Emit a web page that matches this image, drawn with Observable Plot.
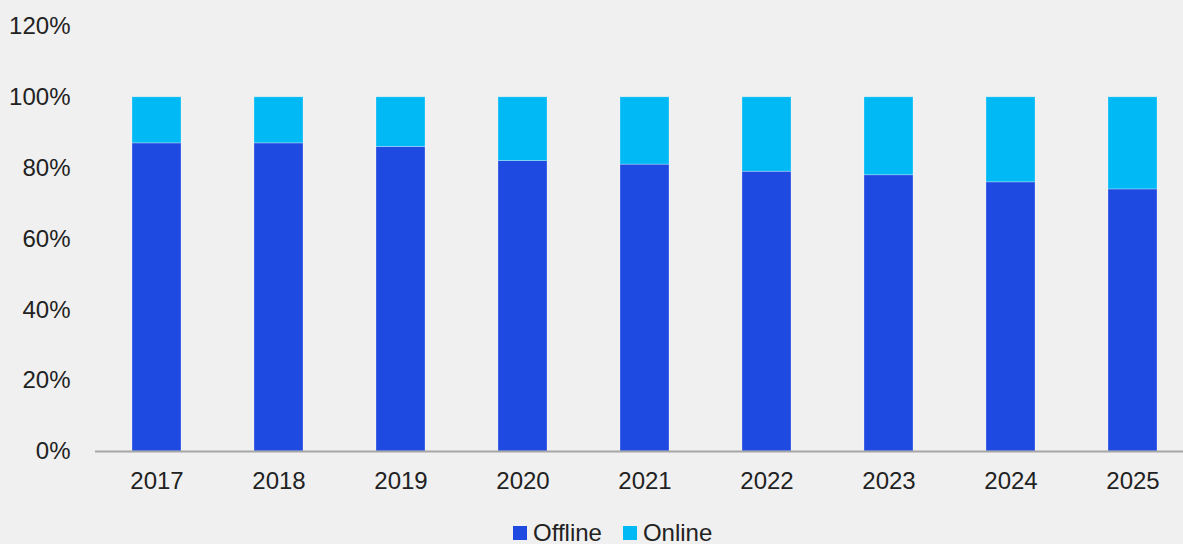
<!DOCTYPE html>
<html>
<head>
<meta charset="utf-8">
<script src="https://cdn.jsdelivr.net/npm/d3@7"></script>
<script src="https://cdn.jsdelivr.net/npm/@observablehq/plot@0.6"></script>
<style>
  html, body { margin: 0; padding: 0; background: #f0f0f0; }
  body { width: 1183px; height: 544px; position: relative; overflow: hidden;
         font-family: "Liberation Sans", Arial, sans-serif; color: #222; }
  #chart svg { display: block; }
  #legend { position: absolute; top: 523px; left: 513px; height: 20px; display: flex; align-items: center;
            font-size: 24px; line-height: 20px; color: #222; white-space: nowrap; }
  .sw { display: inline-block; width: 14px; height: 14px; margin-right: 6px; }
  .item { display: flex; align-items: center; margin-right: 21px; }
</style>
</head>
<body>
<div id="chart"></div>
<div id="legend"></div>
<script>
const years = ["2017", "2018", "2019", "2020", "2021", "2022", "2023", "2024", "2025"];
const offline = [87, 87, 86, 82, 81, 79, 78, 76, 74];
const online = offline.map(v => 100 - v);
const seriesNames = ["Offline", "Online"];
const seriesColors = ["#1f4ae1", "#00b9f5"];
const yTicks = [0, 20, 40, 60, 80, 100, 120];

const rows = [];
years.forEach((y, i) => {
  rows.push({year: y, series: "Offline", value: offline[i]});
  rows.push({year: y, series: "Online", value: online[i]});
});

const chart = Plot.plot({
  width: 1183,
  height: 515,
  marginLeft: 95,
  marginRight: 0,
  marginTop: 26,
  marginBottom: 64,
  style: {background: "transparent", fontFamily: "'Liberation Sans', Arial, sans-serif", fontSize: "24px", color: "#222"},
  x: {type: "band", domain: years, range: [94.4, 1194], paddingInner: 0.6, paddingOuter: 0.3, align: 0.5, label: null},
  y: {domain: [0, 120], label: null},
  color: {domain: seriesNames, range: seriesColors},
  marks: [
    Plot.barY(rows, Plot.stackY({
      x: "year", y: "value", fill: "series", order: seriesNames,
      stroke: "white", strokeWidth: 0.8, strokeOpacity: 0.35
    })),
    Plot.ruleY([0], {stroke: "#a6a6a6", strokeWidth: 2}),
    Plot.axisY({ticks: yTicks, tickFormat: d => d + "%", tickSize: 0, tickPadding: 25, label: null, fontSize: 24}),
    Plot.axisX({tickSize: 0, tickPadding: 20, label: null, fontSize: 24})
  ]
});
document.getElementById("chart").appendChild(chart);

const legend = document.getElementById("legend");
seriesNames.forEach((name, i) => {
  const item = document.createElement("span");
  item.className = "item";
  const sw = document.createElement("span");
  sw.className = "sw";
  sw.style.background = seriesColors[i];
  item.appendChild(sw);
  item.appendChild(document.createTextNode(name));
  legend.appendChild(item);
});
</script>
</body>
</html>
